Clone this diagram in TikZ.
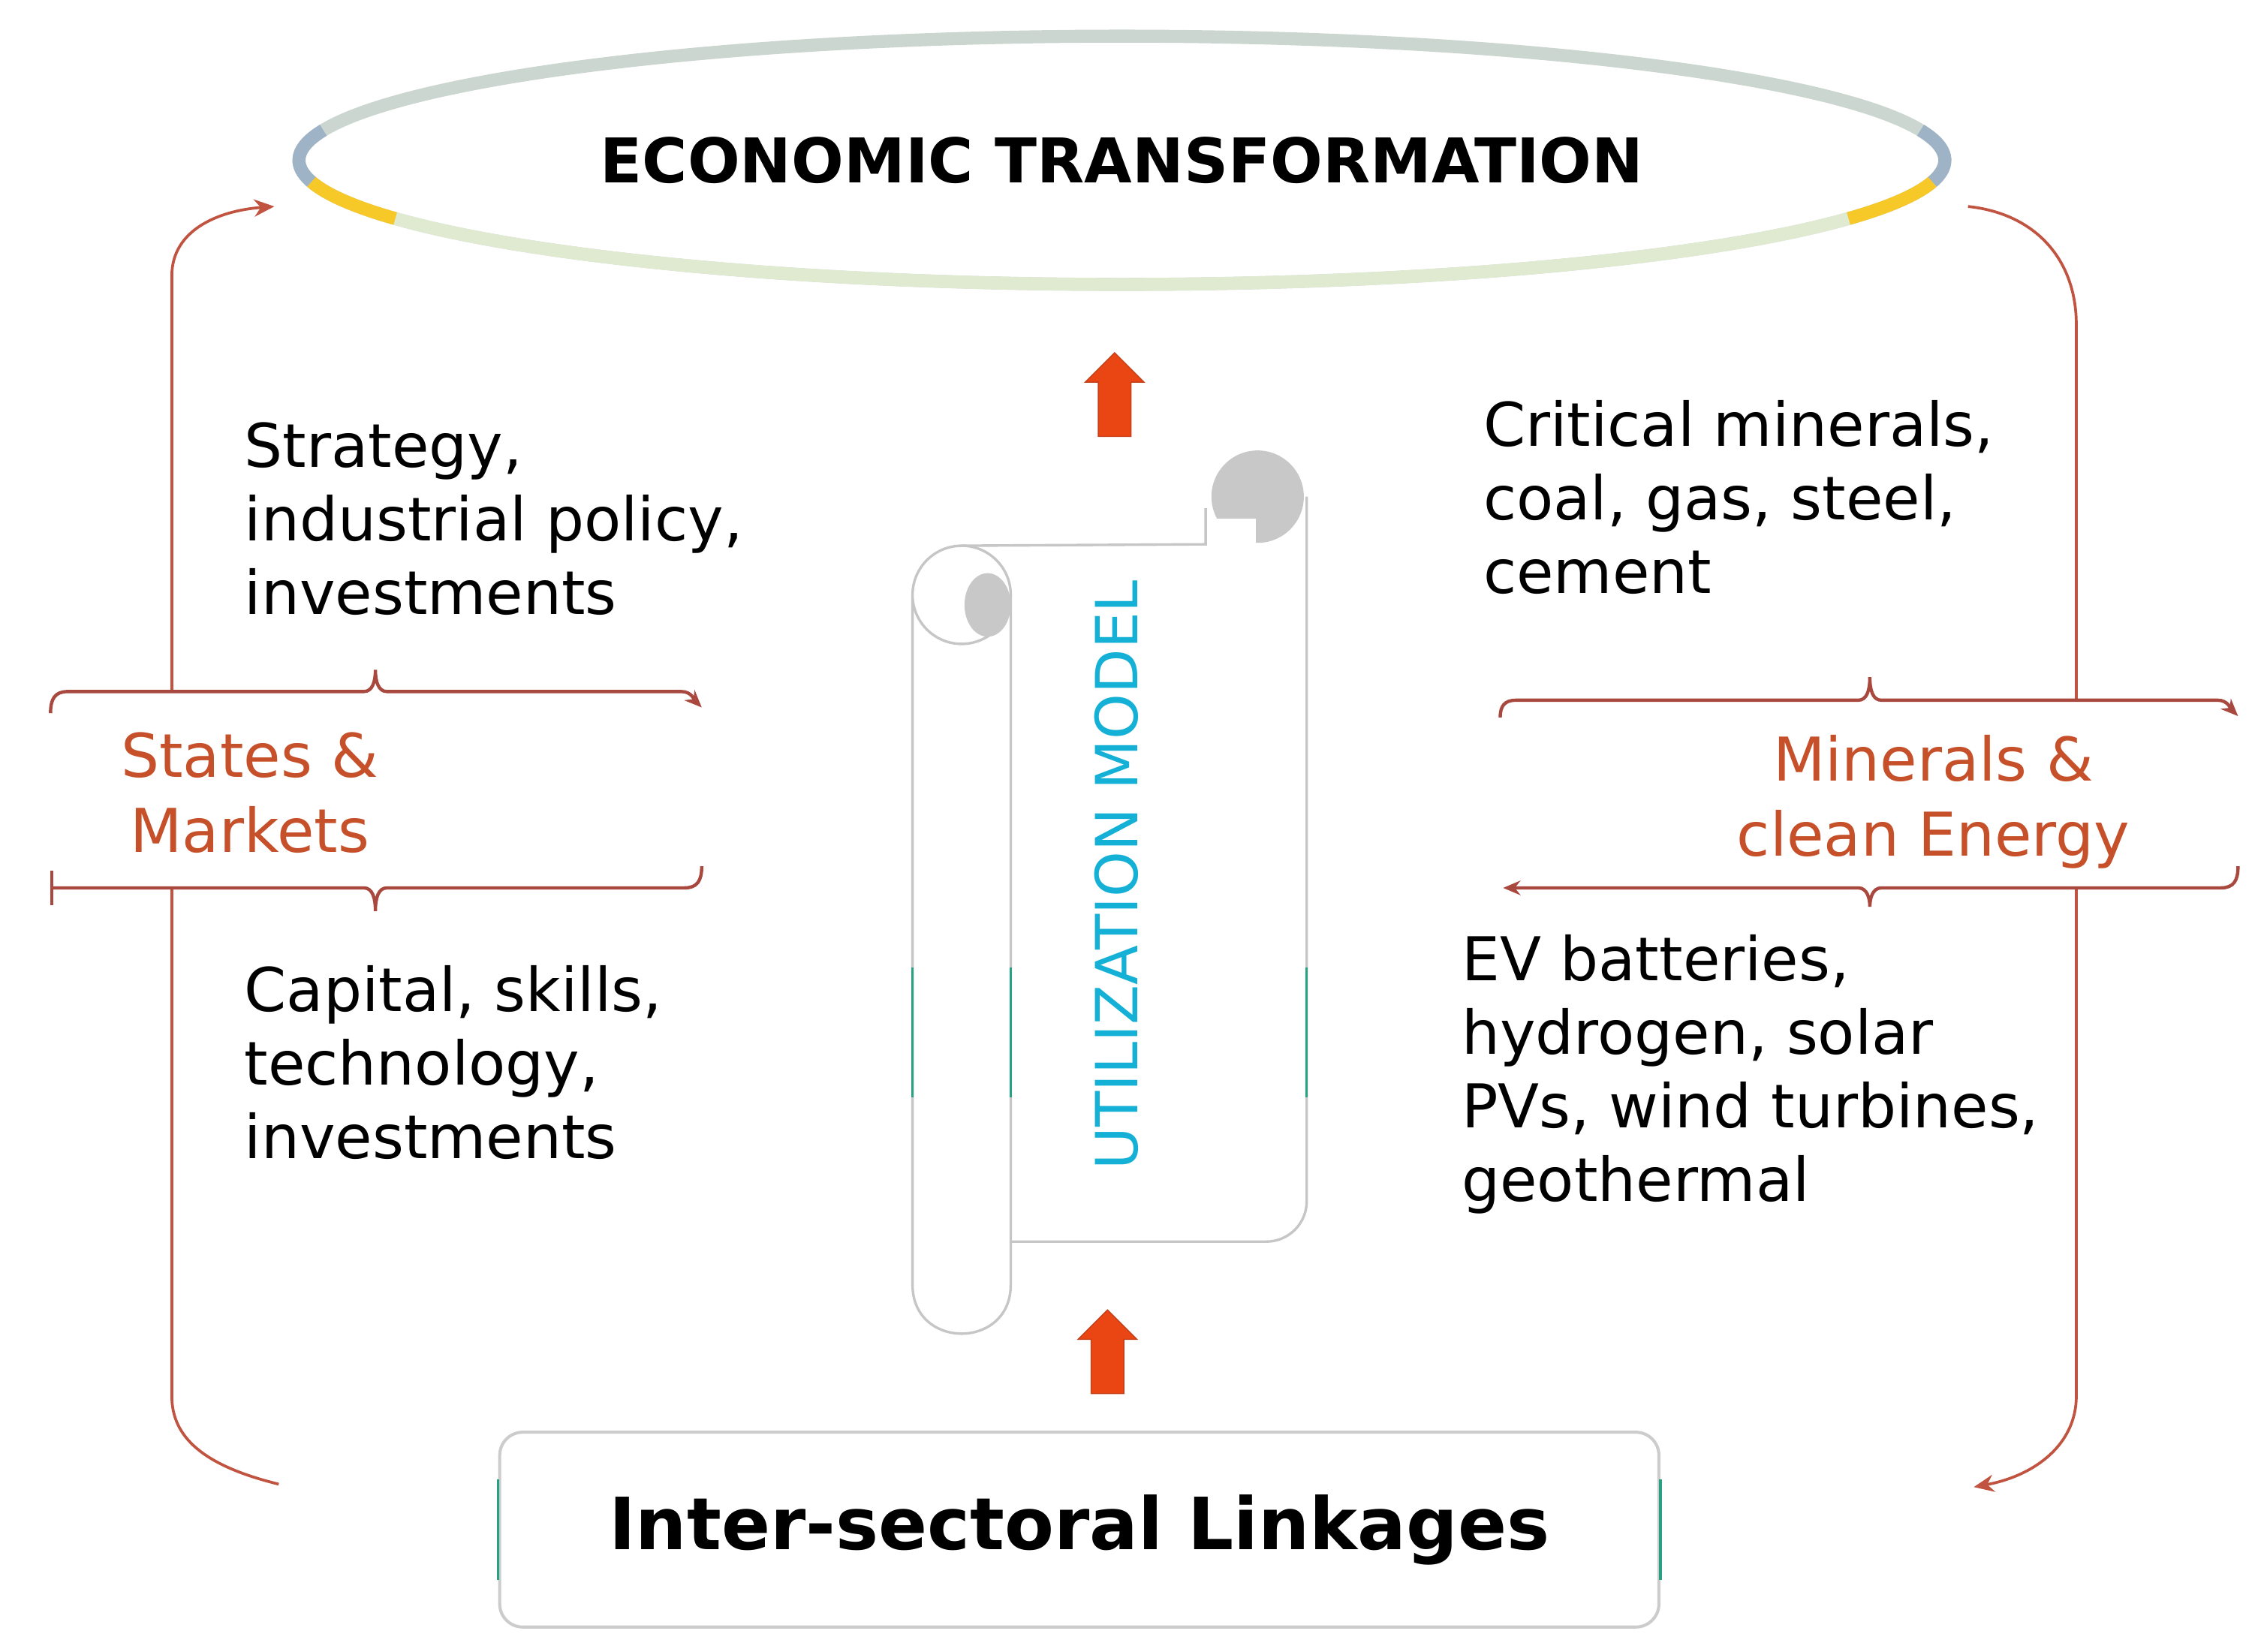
\documentclass[tikz,border=0pt]{standalone}
\usepackage{fontspec}
\setmainfont{DejaVu Sans}
\usetikzlibrary{arrows.meta, positioning, shapes.geometric, shapes.arrows}

\definecolor{linkRed}{RGB}{192,84,64}
\definecolor{bracketRed}{RGB}{168,72,62}
\definecolor{labelRed}{RGB}{198,80,42}
\definecolor{econGrey}{RGB}{204,214,208}
\definecolor{econGreen}{RGB}{224,234,208}
\definecolor{econBlue}{RGB}{158,180,198}
\definecolor{econYellow}{RGB}{246,200,40}
\definecolor{scrollGrey}{RGB}{200,200,200}
\definecolor{scrollTeal}{RGB}{40,160,132}
\definecolor{modelCyan}{RGB}{20,176,214}
\definecolor{arrowFill}{RGB}{234,70,20}
\definecolor{arrowEdge}{RGB}{196,62,24}

\begin{document}
\begin{tikzpicture}[x=0.02cm, y=-0.02cm]
	\tikzstyle{bodyText} = [inner sep=0, anchor=north west, align=left, font=\fontsize{23.8}{29}\selectfont]
	\tikzstyle{sideLabel} = [inner sep=0, anchor=north, align=center, text=labelRed, font=\fontsize{23.8}{29.5}\selectfont]
	\tikzstyle{bracketBox} = [rectangle, fill=white, inner sep=0]
	\tikzstyle{bracketLine} = [draw=bracketRed, line width=1.3pt]
	\tikzstyle{link} = [draw=linkRed, line width=1.1pt]
	\tikzstyle{linkArrow} = [-{Stealth[length=0.28cm, width=0.24cm]}]
	\tikzstyle{econArc} = [line width=0.18cm]
	\tikzstyle{scrollLine} = [draw=gray!45, line width=1pt]
	\tikzstyle{tealLine} = [draw=scrollTeal, line width=1pt]
	\tikzstyle{blockArrow} = [single arrow, shape border rotate=90, draw=arrowEdge, fill=arrowFill, minimum height=1.16cm, minimum width=0.8cm, single arrow head extend=0.18cm, inner sep=0.22cm, line width=0.4pt]
	\tikzstyle{linkBox} = [rectangle, rounded corners=0.32cm, draw=gray!40, line width=1.2pt, fill=white, minimum width=16.06cm, minimum height=2.7cm, font=\fontsize{28.4}{33}\bfseries]
	
	\useasboundingbox (0,0) rectangle (1568,1144);
	
	\node (econ) [ellipse, draw=econGrey, line width=0.18cm, minimum width=22.8cm, minimum height=3.44cm, inner sep=0, font=\fontsize{24.3}{29}\bfseries] at (777,111) {ECONOMIC TRANSFORMATION};
	\draw[econArc, econGreen] (econ.center) ++(28:570 and 86) arc[start angle=28, end angle=152, x radius=570, y radius=86];
	\draw[econArc, econYellow] (econ.center) ++(152:570 and 86) arc[start angle=152, end angle=170, x radius=570, y radius=86];
	\draw[econArc, econYellow] (econ.center) ++(10:570 and 86) arc[start angle=10, end angle=28, x radius=570, y radius=86];
	\draw[econArc, econBlue] (econ.center) ++(170:570 and 86) arc[start angle=170, end angle=194, x radius=570, y radius=86];
	\draw[econArc, econBlue] (econ.center) ++(-14:570 and 86) arc[start angle=-14, end angle=10, x radius=570, y radius=86];
	
	\coordinate (lBottom) at (193,1028);
	\coordinate (lTop) at (190,143);
	\coordinate (rTop) at (1363,143);
	\coordinate (rBottom) at (1367,1030);
	
	\draw[link, linkArrow] (lBottom) .. controls (140,1015) and (119,995) .. (119,967) -- (119,191) .. controls (119,160) and (150,146) .. (lTop);
	\draw[link, linkArrow] (rTop) .. controls (1410,148) and (1438,180) .. (1438,225) -- (1438,967) .. controls (1438,1000) and (1410,1022) .. (rBottom);
	
	\node (statesBox) [bracketBox, minimum width=9.02cm, minimum height=2.72cm] at (260.5,547) {};
	\node (mineralsBox) [bracketBox, minimum width=10.22cm, minimum height=2.6cm] at (1294.5,550) {};
	
	\draw[bracketLine, -{Stealth[length=0.24cm, width=0.2cm]}] (35,494) .. controls (35,484) and (38,479) .. (47,479) -- (252,479) .. controls (258,479) and (260,472) .. (260,464) .. controls (260,472) and (262,479) .. (268,479) -- (472,479) to[out=0, in=135] (486,490);
	\draw[bracketLine] (36,603) -- (36,627);
	\draw[bracketLine] (36,615) -- (252,615) .. controls (258,615) and (260,622) .. (260,631) .. controls (260,622) and (262,615) .. (268,615) -- (474,615) .. controls (483,615) and (486,610) .. (486,600);
	\draw[bracketLine, -{Stealth[length=0.24cm, width=0.2cm]}] (1039,497) .. controls (1039,489) and (1042,485) .. (1050,485) -- (1287,485) .. controls (1293,485) and (1295,478) .. (1295,469) .. controls (1295,478) and (1297,485) .. (1303,485) -- (1536,485) to[out=0, in=135] (1550,496);
	\draw[bracketLine, -{Stealth[length=0.24cm, width=0.2cm]}] (1550,600) .. controls (1550,610) and (1547,615) .. (1538,615) -- (1303,615) .. controls (1297,615) and (1295,622) .. (1295,628) .. controls (1295,622) and (1293,615) .. (1287,615) -- (1041,615);
	
	\node (statesLabel) [sideLabel] at (173,507) {States \&\\Markets};
	\node (mineralsLabel) [sideLabel] at (1339,509) {Minerals \&\\clean Energy};
	
	\node (strategyText) [bodyText] at (169,292) {Strategy,\\industrial policy,\\investments};
	\node (capitalText) [bodyText, below=4.84cm of strategyText.south west, anchor=north west] {Capital, skills,\\technology,\\investments};
	\node (criticalText) [bodyText] at (1027,277) {Critical minerals,\\coal, gas, steel,\\cement};
	\node (evText) [bodyText, below=4.7cm of criticalText.south west, anchor=north west, xshift=-0.3cm] {EV batteries,\\hydrogen, solar\\PVs, wind turbines,\\geothermal};
	
	% scroll
	\fill[scrollGrey] (871,344) circle[radius=32];
	\fill[white] (838,359) rectangle (870,378);
	\draw[scrollLine] (835,352) -- (835,377) -- (666,378);
	\draw[scrollLine, rounded corners=0.56cm] (905,344) -- (905,860) -- (700,860);
	\draw[scrollLine, fill=white] (632,412) -- (632,890) .. controls (632,935) and (700,935) .. (700,890) -- (700,412);
	\draw[scrollLine, fill=white] (666,412) circle[radius=34];
	\fill[scrollGrey] (684,419) ellipse[x radius=16, y radius=22];
	\draw[tealLine] (632,670) -- (632,760);
	\draw[tealLine] (700,670) -- (700,760);
	\draw[tealLine] (905,670) -- (905,760);
	
	\node (utilModel) [rotate=90, text=modelCyan, inner sep=0, font=\fontsize{22.9}{27}\selectfont] at (773.5,606) {UTILIZATION MODEL};
	
	\node (arrowTop) [blockArrow] at (772,279) {};
	\node (arrowBottom) [blockArrow] at (767,942) {};
	
	\node (linkages) [linkBox] at (747.5,1059.5) {Inter-sectoral Linkages};
	\draw[tealLine] (linkages.west) ++(0,-35) -- ++(0,70);
	\draw[tealLine] (linkages.east) ++(0,-35) -- ++(0,70);
\end{tikzpicture}
\end{document}
